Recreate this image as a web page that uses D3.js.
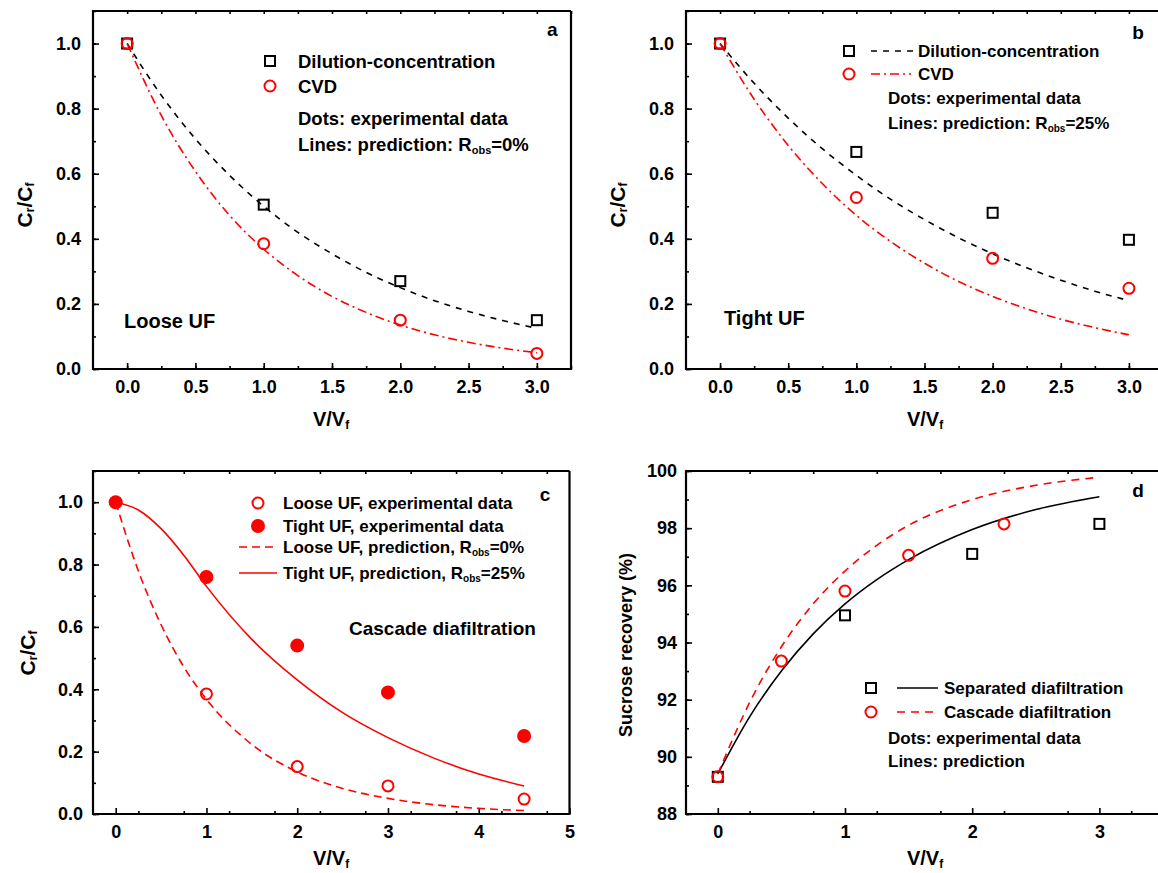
<!DOCTYPE html>
<html>
<head>
<meta charset="utf-8">
<script src="https://cdn.jsdelivr.net/npm/d3@7"></script>
<style>
	body { margin: 0; background: #fff; }
	text { font-family: 'Liberation Sans', Arial, sans-serif; font-weight: bold; fill: #000; }
</style>
</head>
<body>
<svg id="fig"></svg>
<script>

var w = 1158;
var h = 873;

// panel a + b: dilution-concentration vs CVD
var expX = [0, 1, 2, 3];
var aDilution = [1.0, 0.505, 0.27, 0.15];
var aCVD = [1.0, 0.385, 0.15, 0.048];
var bDilution = [1.0, 0.667, 0.48, 0.397];
var bCVD = [1.0, 0.527, 0.34, 0.248];

var predX = [0, 0.25, 0.5, 0.75, 1, 1.25, 1.5, 1.75, 2, 2.25, 2.5, 2.75, 3];
var aDilutionPred = [1.0, 0.841, 0.707, 0.595, 0.5, 0.42, 0.354, 0.297, 0.25, 0.21, 0.177, 0.149, 0.125];
var aCVDPred = [1.0, 0.779, 0.607, 0.472, 0.368, 0.287, 0.223, 0.174, 0.135, 0.105, 0.082, 0.064, 0.05];
var bDilutionPred = [1.0, 0.878, 0.771, 0.677, 0.595, 0.522, 0.459, 0.403, 0.354, 0.311, 0.273, 0.239, 0.21];
var bCVDPred = [1.0, 0.829, 0.687, 0.57, 0.472, 0.392, 0.325, 0.269, 0.223, 0.185, 0.153, 0.127, 0.105];

// panel c: cascade
var cX = [0, 1, 2, 3, 4.5];
var cLoose = [1.0, 0.385, 0.152, 0.09, 0.048];
var cTight = [1.0, 0.76, 0.54, 0.39, 0.25];
var cPredX = [0, 0.25, 0.5, 0.75, 1, 1.5, 2, 2.5, 3, 3.5, 4, 4.5];
var cLoosePred = [1.0, 0.779, 0.607, 0.472, 0.368, 0.223, 0.135, 0.082, 0.05, 0.03, 0.018, 0.011];
var cTightPred = [1.0, 0.975, 0.915, 0.83, 0.73, 0.56, 0.43, 0.325, 0.245, 0.18, 0.128, 0.09];

// panel d: sucrose recovery
var dSepX = [0, 1, 2, 3];
var dSep = [89.3, 94.95, 97.1, 98.15];
var dCasX = [0, 0.5, 1, 1.5, 2.25];
var dCas = [89.3, 93.35, 95.8, 97.05, 98.15];
var dPredX = [0, 0.25, 0.5, 0.75, 1, 1.25, 1.5, 2, 2.5, 3];
var dSepPred = [89.4, 91.4, 93.0, 94.3, 95.35, 96.2, 96.9, 97.95, 98.65, 99.1];
var dCasPred = [89.4, 91.9, 93.85, 95.35, 96.5, 97.4, 98.1, 99.0, 99.5, 99.78];

// ticks
var ticksAB = [0, 0.5, 1, 1.5, 2, 2.5, 3];
var ticksC = [0, 1, 2, 3, 4, 5];
var ticksD = [0, 1, 2, 3];
var ticksCr = [0, 0.2, 0.4, 0.6, 0.8, 1.0];
var ticksRec = [88, 90, 92, 94, 96, 98, 100];

var red = '#ff0000';

var svg = d3.select('#fig')
	.attr('width', w)
	.attr('height', h)
	.style('background-color', '#fff');

function zip(xs, ys) {
	return xs.map(function(x, i) { return [x, ys[i]]; });
}

function panel(o) {
	var x = d3.scaleLinear().domain(o.xdom).range([o.l, o.r]);
	var y = d3.scaleLinear().domain(o.ydom).range([o.b, o.t]);
	var g = svg.append('g');

	// minor ticks first, then majors
	var minorX = d3.range(o.xdom[0], o.xdom[1] + 1e-9, o.xminor).filter(function(v) { return v > o.xdom[0] + 1e-9; });
	var minorY = d3.range(o.ydom[0], o.ydom[1] + 1e-9, o.yminor);

	g.append('g')
		.attr('transform', 'translate(0,' + o.b + ')')
		.call(d3.axisBottom(x).tickValues(minorX).tickSize(-3).tickFormat(''));
	g.append('g')
		.attr('transform', 'translate(' + o.l + ',0)')
		.call(d3.axisLeft(y).tickValues(minorY).tickSize(-3).tickFormat(''));
	g.append('g')
		.attr('transform', 'translate(0,' + o.t + ')')
		.call(d3.axisTop(x).tickValues(minorX).tickSize(-3).tickFormat(''));

	g.append('g')
		.attr('class', 'xax')
		.attr('transform', 'translate(0,' + o.b + ')')
		.call(d3.axisBottom(x).tickValues(o.xticks).tickSize(-6).tickPadding(o.xpad).tickFormat(d3.format(o.xfmt)));
	g.append('g')
		.attr('class', 'yax')
		.attr('transform', 'translate(' + o.l + ',0)')
		.call(d3.axisLeft(y).tickValues(o.yticks).tickSize(-6).tickPadding(o.ypad).tickFormat(d3.format(o.yfmt)));

	g.selectAll('.domain').remove();
	g.selectAll('.tick line').attr('stroke', '#000').attr('stroke-width', 1.6);
	g.selectAll('.tick text')
		.style('font-size', '18px')
		.attr('fill', '#000');

	g.append('path')
		.attr('d', 'M' + o.r + ',' + o.t + 'H' + o.l + 'V' + o.b + 'H' + o.r + (o.r < w ? 'V' + o.t : ''))
		.attr('fill', 'none')
		.attr('stroke', '#000')
		.attr('stroke-width', 2.2);

	return { g: g, x: x, y: y };
}

function drawLine(p, xs, ys, color, dash) {
	var line = d3.line()
		.x(function(d) { return p.x(d[0]); })
		.y(function(d) { return p.y(d[1]); })
		.curve(d3.curveMonotoneX);
	p.g.append('path')
		.datum(zip(xs, ys))
		.attr('d', line)
		.attr('fill', 'none')
		.attr('stroke', color)
		.attr('stroke-width', 1.6)
		.attr('stroke-dasharray', dash);
}

function square(g, cx, cy) {
	g.append('rect')
		.attr('x', cx - 5).attr('y', cy - 5)
		.attr('width', 10).attr('height', 10)
		.attr('fill', 'none')
		.attr('stroke', '#000')
		.attr('stroke-width', 2);
}

function circle(g, cx, cy, filled) {
	g.append('circle')
		.attr('cx', cx).attr('cy', cy)
		.attr('r', filled ? 6 : 5.5)
		.attr('fill', filled ? red : 'none')
		.attr('stroke', red)
		.attr('stroke-width', 2);
}

function drawPoints(p, xs, ys, kind) {
	xs.forEach(function(v, i) {
		if (kind == 'square') square(p.g, p.x(v), p.y(ys[i]));
		else circle(p.g, p.x(v), p.y(ys[i]), kind == 'filled');
	});
}

function label(x, y, str, size, anchor) {
	return svg.append('text')
		.attr('x', x).attr('y', y)
		.attr('dominant-baseline', 'central')
		.attr('text-anchor', anchor || 'start')
		.style('font-size', size + 'px')
		.text(str);
}

// text with a subscript part: parts = [[txt, sub?], ...]
function subLabel(x, y, parts, size, anchor, rotate) {
	var t = svg.append('text')
		.attr('x', x).attr('y', y)
		.attr('dominant-baseline', 'central')
		.attr('text-anchor', anchor || 'start')
		.style('font-size', size + 'px');
	if (rotate) t.attr('transform', 'rotate(-90,' + x + ',' + y + ')');
	var shift = 0;
	parts.forEach(function(pt) {
		var want = pt[1] ? Math.round(size * 0.3) : 0;
		t.append('tspan')
			.attr('dy', want - shift)
			.style('font-size', (pt[1] ? Math.round(size * 0.58) : size) + 'px')
			.text(pt[0]);
		shift = want;
	});
	return t;
}

var crTitle = [['C', 0], ['r', 1], ['/C', 0], ['f', 1]];
var vTitle = [['V/V', 0], ['f', 1]];

// ---- panel a
var pa = panel({ l: 93, r: 571, t: 11, b: 369, xdom: [-0.25, 3.25], ydom: [0, 1.1],
	xticks: ticksAB, yticks: ticksCr, xminor: 0.25, yminor: 0.1, xfmt: '.1f', yfmt: '.1f', xpad: 11, ypad: 12 });
drawLine(pa, predX, aDilutionPred, '#000', '6,6');
drawLine(pa, predX, aCVDPred, red, '9,4,2,4');
drawPoints(pa, expX, aDilution, 'square');
drawPoints(pa, expX, aCVD, 'circle');
square(svg, 270, 61);
circle(svg, 270, 86, false);
label(298, 61, 'Dilution-concentration', 18.5);
label(298, 86, 'CVD', 18.5);
label(298, 118, 'Dots: experimental data', 18.5);
subLabel(298, 144, [['Lines: prediction: R', 0], ['obs', 1], ['=0%', 0]], 18.5);
label(547, 29, 'a', 19);
label(124, 321, 'Loose UF', 20);
subLabel(24, 205, crTitle, 21, 'middle', true);
subLabel(331, 419, vTitle, 20, 'middle');

// ---- panel b
var pb = panel({ l: 686, r: 1163, t: 11, b: 369, xdom: [-0.25, 3.25], ydom: [0, 1.1],
	xticks: ticksAB, yticks: ticksCr, xminor: 0.25, yminor: 0.1, xfmt: '.1f', yfmt: '.1f', xpad: 11, ypad: 12 });
drawLine(pb, predX, bDilutionPred, '#000', '6,6');
drawLine(pb, predX, bCVDPred, red, '9,4,2,4');
drawPoints(pb, expX, bDilution, 'square');
drawPoints(pb, expX, bCVD, 'circle');
square(svg, 849, 51);
circle(svg, 849, 74, false);
svg.append('line').attr('x1', 871).attr('x2', 914).attr('y1', 51).attr('y2', 51)
	.attr('stroke', '#000').attr('stroke-width', 1.6).attr('stroke-dasharray', '6,6');
svg.append('line').attr('x1', 871).attr('x2', 911).attr('y1', 74).attr('y2', 74)
	.attr('stroke', red).attr('stroke-width', 1.6).attr('stroke-dasharray', '9,4,2,4');
label(918, 51, 'Dilution-concentration', 17);
label(918, 74, 'CVD', 17);
label(888, 98, 'Dots: experimental data', 17);
subLabel(888, 123, [['Lines: prediction: R', 0], ['obs', 1], ['=25%', 0]], 17);
label(1138, 32, 'b', 19, 'middle');
label(724, 318, 'Tight UF', 20);
subLabel(617, 205, crTitle, 21, 'middle', true);
subLabel(925, 419, vTitle, 20, 'middle');

// ---- panel c
var pc = panel({ l: 93, r: 569.5, t: 471, b: 814, xdom: [-0.25, 5], ydom: [0, 1.1],
	xticks: ticksC, yticks: ticksCr, xminor: 0.5, yminor: 0.1, xfmt: 'd', yfmt: '.1f', xpad: 11, ypad: 10 });
drawLine(pc, cPredX, cLoosePred, red, '8,5');
drawLine(pc, cPredX, cTightPred, red, null);
drawPoints(pc, cX, cLoose, 'circle');
drawPoints(pc, cX, cTight, 'filled');
circle(svg, 258, 503, false);
circle(svg, 258, 526, true);
svg.append('line').attr('x1', 239).attr('x2', 277).attr('y1', 547).attr('y2', 547)
	.attr('stroke', red).attr('stroke-width', 1.6).attr('stroke-dasharray', '8,5');
svg.append('line').attr('x1', 239).attr('x2', 277).attr('y1', 573).attr('y2', 573)
	.attr('stroke', red).attr('stroke-width', 1.6);
label(283, 503, 'Loose UF, experimental data', 17);
label(283, 526, 'Tight UF, experimental data', 17);
subLabel(283, 547, [['Loose UF, prediction, R', 0], ['obs', 1], ['=0%', 0]], 17);
subLabel(283, 573, [['Tight UF, prediction, R', 0], ['obs', 1], ['=25%', 0]], 17);
label(545, 494, 'c', 19, 'middle');
label(349, 628, 'Cascade diafiltration', 19);
subLabel(27, 653, crTitle, 21, 'middle', true);
subLabel(331, 858, vTitle, 20, 'middle');

// ---- panel d
var pd = panel({ l: 686, r: 1163, t: 471, b: 814, xdom: [-0.25, 3.5], ydom: [88, 100],
	xticks: ticksD, yticks: ticksRec, xminor: 0.5, yminor: 1, xfmt: 'd', yfmt: 'd', xpad: 11, ypad: 9 });
drawLine(pd, dPredX, dSepPred, '#000', null);
drawLine(pd, dPredX, dCasPred, red, '8,6');
drawPoints(pd, dSepX, dSep, 'square');
drawPoints(pd, dCasX, dCas, 'circle');
square(svg, 871, 688);
circle(svg, 871, 712, false);
svg.append('line').attr('x1', 897).attr('x2', 938).attr('y1', 688).attr('y2', 688)
	.attr('stroke', '#000').attr('stroke-width', 1.6);
svg.append('line').attr('x1', 897).attr('x2', 938).attr('y1', 712).attr('y2', 712)
	.attr('stroke', red).attr('stroke-width', 1.6).attr('stroke-dasharray', '8,6');
label(944, 688, 'Separated diafiltration', 17);
label(944, 712, 'Cascade diafiltration', 17);
label(888, 738, 'Dots: experimental data', 17);
label(888, 761, 'Lines: prediction', 17);
label(1138, 490, 'd', 19, 'middle');
label(626, 645, 'Sucrose recovery (%)', 18, 'middle').attr('transform', 'rotate(-90,626,645)');
subLabel(925, 858, vTitle, 20, 'middle');

</script>
</body>
</html>
